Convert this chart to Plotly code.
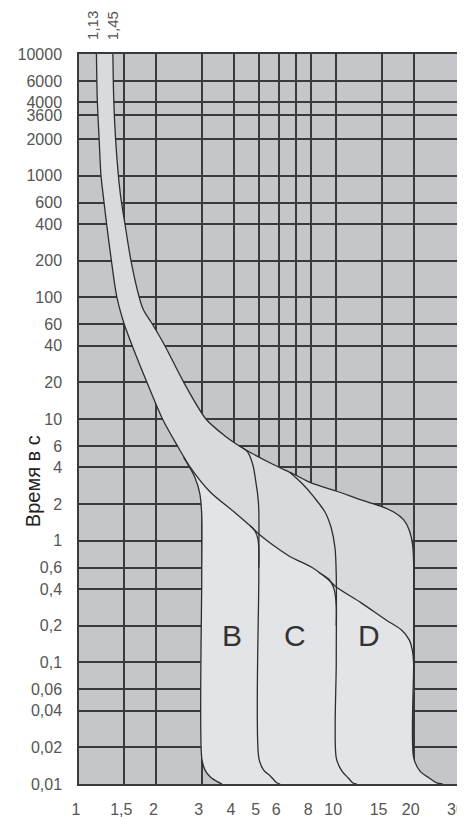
import math
import plotly.graph_objects as go

# ---- axis ticks ----
X_TICKS = [1, 1.5, 2, 3, 4, 5, 6, 7, 8, 10, 15, 20, 30]
X_TICK_TEXT = ["1", "1,5", "2", "3", "4", "5", "6", "", "8", "10", "15", "20", "30"]
# the "3600" grid line sits where the reference draws it
Y_TICKS = [10000, 6000, 4000, 3150, 2000, 1000, 600, 400, 200, 100, 60, 40, 20, 10,
           6, 4, 2, 1, 0.6, 0.4, 0.2, 0.1, 0.06, 0.04, 0.02, 0.01]
Y_TICK_TEXT = ["10000", "6000", "4000", "3600", "2000", "1000", "600", "400", "200", "100",
               "60", "40", "20", "10", "6", "4", "2", "1", "0,6", "0,4", "0,2", "0,1",
               "0,06", "0,04", "0,02", "0,01"]
TOP_LABELS = ["1,13", "1,45"]
Y_TITLE = "Время в с"

# ---- thermal curves (multiple of In, seconds) ----
LOWER_X = [1.169, 1.178, 1.198, 1.217, 1.248, 1.279, 1.335, 1.403, 1.494, 1.606, 1.835,
           2.111, 2.427, 2.718, 3.235, 4.052, 4.675, 5.0, 5.744, 6.65, 8.0, 9.25, 10.0,
           12.5, 15.61, 17.93, 19.22, 19.81, 20.0]
LOWER_T = [10000, 4188, 1963, 1013, 631, 408, 203, 100.7, 61.5, 40.6, 20.1,
           10, 5.89, 3.96, 2.51, 1.69, 1.30, 1.135, 0.904, 0.735, 0.608, 0.484, 0.416,
           0.308, 0.223, 0.1845, 0.153, 0.1216, 0.095]

UPPER_X = [1.354, 1.365, 1.388, 1.422, 1.458, 1.507, 1.590, 1.713, 1.781, 1.916, 2.149,
           2.551, 3.115, 3.693, 4.086, 4.675, 5.744, 6.823, 8.0, 10.0, 12.5, 14.75,
           16.73, 18.29, 19.22, 19.81, 20.0]
UPPER_T = [10000, 4188, 1963, 1013, 631, 408, 203, 100.7, 78.7, 61.5, 40.6,
           20.1, 10, 7.25, 6.23, 5.26, 4.19, 3.53, 2.98, 2.56, 2.16, 1.93,
           1.72, 1.48, 1.22, 0.921, 0.631]

# ---- magnetic trip boundaries ----
B_LOW_X = [2.551, 2.817, 2.946, 3.0, 3.0, 3.0, 3.09, 3.24, 3.46, 3.6]
B_LOW_T = [4.83, 3.34, 2.46, 1.63, 0.5, 0.0164, 0.013, 0.0114, 0.0104, 0.01]

B_UP_X = [4.19, 4.52, 4.753, 4.875, 4.96, 5.0, 5.0, 5.0, 5.22, 5.55, 5.85, 6.05]
B_UP_T = [6.03, 5.36, 4.11, 2.98, 2.29, 1.79, 0.5, 0.0164, 0.013, 0.0116, 0.0103, 0.01]

C_LOW_X = [4.64, 4.83, 4.96, 5.0, 5.0]
C_LOW_T = [1.318, 1.20, 1.03, 0.838, 0.6]

C_UP_X = [6.596, 7.40, 8.18, 9.04, 9.56, 9.89, 10.0, 10.0, 10.0, 10.51, 11.13, 11.61, 12.0]
C_UP_T = [3.65, 2.92, 2.29, 1.72, 1.27, 0.871, 0.522, 0.1, 0.0164, 0.0128, 0.0112, 0.0102, 0.01]

D_LOW_X = [8.55, 9.35, 9.78, 10.0, 10.0]
D_LOW_T = [0.548, 0.484, 0.408, 0.296, 0.2]

D_UP_X = [20.0, 20.0, 20.0, 21.2, 22.97, 24.6, 25.9]
D_UP_T = [0.631, 0.1, 0.0164, 0.0127, 0.0112, 0.0102, 0.01]

ZONE_LABELS = ["B", "C", "D"]
ZONE_X = [3.94, 6.92, 13.36]
ZONE_T = [0.165, 0.165, 0.165]

BG = "#c4c6ca"
BAND = "#d9dadd"
LIGHT = "#e3e4e7"
GRID = "#3a3a3a"
CURVE = "#2e2e2e"
FONT = "Liberation Sans, Arial, sans-serif"

fig = go.Figure()

# band between the thermal curves (union of all characteristics)
head = [i for i, x in enumerate(LOWER_X) if x < B_LOW_X[0]]
band_x = [LOWER_X[i] for i in head] + B_LOW_X + D_UP_X[1:][::-1] + UPPER_X[::-1]
band_t = [LOWER_T[i] for i in head] + B_LOW_T + D_UP_T[1:][::-1] + UPPER_T[::-1]
fig.add_trace(go.Scatter(x=band_x, y=band_t, mode="lines", fill="toself",
                         fillcolor=BAND, line=dict(width=0, shape="spline", smoothing=0.8),
                         hoverinfo="skip", showlegend=False))

# lighter zone below the lower thermal curve
tail = [i for i, x in enumerate(LOWER_X) if x > B_LOW_X[0]]
light_x = B_LOW_X + D_UP_X[2:][::-1] + [LOWER_X[i] for i in tail][::-1]
light_t = B_LOW_T + D_UP_T[2:][::-1] + [LOWER_T[i] for i in tail][::-1]
fig.add_trace(go.Scatter(x=light_x, y=light_t, mode="lines", fill="toself",
                         fillcolor=LIGHT, line=dict(width=0, shape="spline", smoothing=0.8),
                         hoverinfo="skip", showlegend=False))

for xs, ts in [(LOWER_X, LOWER_T), (UPPER_X, UPPER_T), (B_LOW_X, B_LOW_T),
               (B_UP_X, B_UP_T), (C_LOW_X, C_LOW_T), (C_UP_X, C_UP_T),
               (D_LOW_X, D_LOW_T), (D_UP_X, D_UP_T)]:
    fig.add_trace(go.Scatter(x=xs, y=ts, mode="lines",
                             line=dict(color=CURVE, width=1.3, shape="spline", smoothing=0.8),
                             hoverinfo="skip", showlegend=False))

for lab, x, t in zip(ZONE_LABELS, ZONE_X, ZONE_T):
    fig.add_annotation(x=math.log10(x), y=math.log10(t), text=lab, showarrow=False,
                       font=dict(family=FONT, size=30, color="#333333"))

fig.add_annotation(x=math.log10(LOWER_X[0]), y=1, yref="paper", xshift=-4, yshift=12,
                   yanchor="bottom", text=TOP_LABELS[0], textangle=-90, showarrow=False,
                   font=dict(family=FONT, size=15, color="#555555"))
fig.add_annotation(x=math.log10(UPPER_X[0]), y=1, yref="paper", xshift=0, yshift=12,
                   yanchor="bottom", text=TOP_LABELS[1], textangle=-90, showarrow=False,
                   font=dict(family=FONT, size=15, color="#555555"))
fig.add_annotation(x=-0.155, y=0.415, xref="paper", yref="paper", text=Y_TITLE,
                   textangle=-90, showarrow=False,
                   font=dict(family=FONT, size=20, color="#222222"))

fig.update_xaxes(type="log", range=[0, math.log10(30) + 1e-5], tickvals=X_TICKS,
                 ticktext=X_TICK_TEXT, automargin=False,
                 showgrid=True, gridcolor=GRID, gridwidth=1.5, zeroline=False,
                 showline=True, linecolor=GRID, linewidth=1.5, mirror=True,
                 ticks="", ticklabelstandoff=10, ticklabelshift=-3,
                 ticklabeloverflow="allow",
                 tickfont=dict(family=FONT, size=16, color="#555555"))
fig.update_yaxes(type="log", range=[-2, 4], tickvals=Y_TICKS, ticktext=Y_TICK_TEXT,
                 automargin=False,
                 showgrid=True, gridcolor=GRID, gridwidth=1.5, zeroline=False,
                 showline=True, linecolor=GRID, linewidth=1.5, mirror=True,
                 ticks="", ticklabelstandoff=12,
                 tickfont=dict(family=FONT, size=16, color="#555555"))

# the page body adds an 8 px offset, so the figure is sized to fit the window
fig.update_layout(width=457, height=809,
                  margin=dict(l=71, r=6, t=46, b=33, autoexpand=False),
                  plot_bgcolor=BG, paper_bgcolor="white", showlegend=False)

fig.write_html("out.html")
